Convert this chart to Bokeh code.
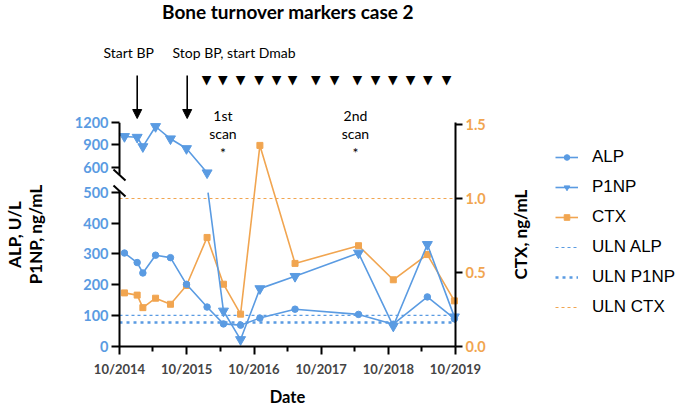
import math
import pandas as pd
from bokeh.plotting import figure
from bokeh.models import (Range1d, LinearAxis, FixedTicker, Label, Arrow, NormalHead,
                          Legend, LegendItem, NumeralTickFormatter)
from bokeh.embed import file_html
from bokeh.resources import INLINE

# ---------------- data ----------------
DATES = ["2014-10-28", "2015-01-05", "2015-02-05", "2015-04-15", "2015-07-05",
         "2015-09-30", "2016-01-20", "2016-04-18", "2016-07-20", "2016-11-02",
         "2017-05-12", "2018-04-22", "2018-10-28", "2019-05-01", "2019-09-25"]
ALP = [303, 272, 238, 296, 288, 201, 127, 72, 68, 91, 120, 103, 71, 160, 89]
P1NP = [1015, 1005, 878, 1150, 984, 852, 524, 114, 21, 187, 227, 303, 65, 331, 95]
CTX = [0.36, 0.345, 0.26, 0.324, 0.283, 0.41, 0.736, 0.419, 0.216, 1.36, 0.56,
       0.68, 0.449, 0.62, 0.306]
ULN_ALP = 100
ULN_P1NP = 77
ULN_CTX = 1.0

LEFT_TICKS = [0, 100, 200, 300, 400, 500, 600, 900, 1200]
RIGHT_TICKS = [0.0, 0.5, 1.0, 1.5]
X_TICK_DATES = ["2014-10-01", "2015-10-01", "2016-10-01", "2017-10-01",
                "2018-10-01", "2019-10-01"]
X_TICK_LABELS = ["10/2014", "10/2015", "10/2016", "10/2017", "10/2018", "10/2019"]
X_MINOR_DATES = ["2015-04-01", "2016-04-01", "2017-04-01", "2018-04-01", "2019-04-01"]
DMAB_DATES = ["2016-01-17", "2016-04-15", "2016-07-20", "2016-10-28", "2017-02-01",
              "2017-04-28", "2017-09-02", "2017-12-13", "2018-04-15", "2018-07-23",
              "2018-10-25", "2019-01-30", "2019-05-04", "2019-08-13"]
SCAN_DATES = ["2016-04-15", "2018-04-05"]
SCAN_LABELS = ["1st", "2nd"]

TITLE = "Bone turnover markers case 2"

# ---------------- style / layout ----------------
BLUE = "#5A9BE2"
ORANGE = "#F1A550"
W, H = 679, 407
AX_L, AX_R, AX_B, AX_T = 119, 455, 345.5, 122.3   # axis box in canvas px
PX_LO = 0.3068        # px per unit, lower segment of the left axis
PX_CTX = 147.5        # px per unit, right axis
BREAK = 500           # lower segment top
GAP_TOP = (AX_B - 174.1) / PX_LO      # where the upper segment starts (axis units)
R = ((AX_B - AX_T) / PX_LO - GAP_TOP) / 700.0   # compression of upper segment


def ms(d):
    return float(pd.Timestamp(d).value // 10**6)


def tf(v):
    return v if v <= BREAK else GAP_TOP + (v - BREAK) * R


def broken(xs, vs):
    bx, by = [xs[0]], [tf(vs[0])]
    for i in range(1, len(vs)):
        a, b = vs[i - 1], vs[i]
        if (a > BREAK) != (b > BREAK):
            f = (a - BREAK) / (a - b)
            xc = xs[i - 1] + f * (xs[i] - xs[i - 1])
            if a > BREAK:
                bx += [xc, math.nan, xc]
                by += [GAP_TOP, math.nan, BREAK]
            else:
                bx += [xc, math.nan, xc]
                by += [BREAK, math.nan, GAP_TOP]
        bx.append(xs[i])
        by.append(tf(b))
    return bx, by


X = [ms(d) for d in DATES]
X0, X1 = ms(X_TICK_DATES[0]), ms(X_TICK_DATES[-1])
MPP = (X1 - X0) / (AX_R - AX_L)

p = figure(width=W, height=H, x_axis_type="datetime",
           x_range=Range1d(X0 - AX_L * MPP, X1 + (W - AX_R) * MPP),
           y_range=Range1d(-(H - AX_B) / PX_LO, AX_B / PX_LO),
           output_backend="svg", toolbar_location=None,
           min_border_left=0, min_border_right=0,
           min_border_top=0, min_border_bottom=0)
p.outline_line_color = None
p.xgrid.visible = False
p.ygrid.visible = False
p.extra_y_ranges = {"ctx": Range1d(-(H - AX_B) / PX_CTX, AX_B / PX_CTX)}


def SX(ix):
    return ix


def SY(iy):
    return H - iy


# ---- axes ----
xa = p.xaxis[0]
xa.fixed_location = 0
xa.bounds = (X0, X1)
xa.ticker = FixedTicker(ticks=[ms(d) for d in X_TICK_DATES],
                        minor_ticks=[ms(d) for d in X_MINOR_DATES])
xa.major_label_overrides = {ms(d): l for d, l in zip(X_TICK_DATES, X_TICK_LABELS)}
xa.axis_line_width = 2
xa.major_tick_line_width = 2
xa.minor_tick_line_width = 2
xa.major_tick_out = 8
xa.major_tick_in = 0
xa.minor_tick_out = 5
xa.minor_tick_in = 0
xa.major_label_text_font = "Lato"
xa.major_label_text_font_style = "bold"
xa.major_label_text_font_size = "13px"
xa.major_label_standoff = 7

ya = p.yaxis[0]
ya.fixed_location = X0
lt = [round(tf(v), 2) for v in LEFT_TICKS]
ya.ticker = FixedTicker(ticks=lt, minor_ticks=[])
ya.major_label_overrides = {t: str(v) for t, v in zip(lt, LEFT_TICKS)}
ya.axis_line_color = None
ya.major_tick_line_width = 2
ya.major_tick_out = 8
ya.major_tick_in = 0
ya.major_label_text_font = "Lato"
ya.major_label_text_font_style = "bold"
ya.major_label_text_font_size = "14.5px"
ya.major_label_text_color = BLUE
ya.major_label_standoff = 3

ra = LinearAxis(y_range_name="ctx", ticker=FixedTicker(ticks=RIGHT_TICKS, minor_ticks=[]),
                formatter=NumeralTickFormatter(format="0.0"))
ra.fixed_location = X1
ra.bounds = (0, (AX_B - AX_T) / PX_CTX)
ra.axis_line_width = 2
ra.major_tick_line_width = 2
ra.major_tick_out = 7
ra.major_tick_in = 0
ra.major_label_text_font = "Lato"
ra.major_label_text_font_style = "bold"
ra.major_label_text_font_size = "14.5px"
ra.major_label_text_color = ORANGE
ra.major_label_standoff = 3
p.add_layout(ra, "right")

# ---- custom broken left axis line ----
for (x0, y0, x1, y1) in [(AX_L, AX_T, AX_L, 174), (AX_L, 190, AX_L, AX_B + 1),
                         (113, 169, 125, 180), (113, 185, 125, 196)]:
    p.add_layout(Arrow(end=None, x_start=SX(x0), y_start=SY(y0), x_end=SX(x1),
                       y_end=SY(y1), start_units="screen", end_units="screen",
                       line_color="black", line_width=2))

# ---- ULN lines ----
uln_alp = p.line([X0, X1], [ULN_ALP, ULN_ALP], line_color=BLUE, line_width=1.2,
                 line_dash="3 3")
uln_p1np = p.line([X0, X1], [ULN_P1NP, ULN_P1NP], line_color=BLUE, line_width=2.5,
                  line_dash="3 4")
uln_ctx = p.line([X0, X1], [ULN_CTX, ULN_CTX], line_color=ORANGE, line_width=1.2,
                 line_dash="3 3", y_range_name="ctx")

# ---- series ----
ctx_l = p.line(X, CTX, line_color=ORANGE, line_width=1.6, y_range_name="ctx")
ctx_m = p.scatter(X, CTX, marker="square", size=6, color=ORANGE, y_range_name="ctx")

bx, by = broken(X, ALP)
alp_l = p.line(bx, by, line_color=BLUE, line_width=1.6)
alp_m = p.scatter(X, [tf(v) for v in ALP], marker="circle", size=6.5, color=BLUE)

bx, by = broken(X, P1NP)
p1_l = p.line(bx, by, line_color=BLUE, line_width=1.6)
p1_m = p.scatter(X, [tf(v) for v in P1NP], marker="inverted_triangle", size=10, color=BLUE)

# ---- legend ----
legend = Legend(items=[
    LegendItem(label="ALP", renderers=[alp_l, alp_m]),
    LegendItem(label="P1NP", renderers=[p1_l, p1_m]),
    LegendItem(label="CTX", renderers=[ctx_l, ctx_m]),
    LegendItem(label="ULN ALP", renderers=[uln_alp]),
    LegendItem(label="ULN P1NP", renderers=[uln_p1np]),
    LegendItem(label="ULN CTX", renderers=[uln_ctx]),
], location=(SX(555), SY(317)), glyph_width=23, glyph_height=14, label_standoff=14,
    label_height=16, spacing=10, padding=0, margin=0, border_line_color=None,
    background_fill_alpha=0, label_text_font="Liberation Sans",
    label_text_font_size="17px", label_text_color="black")
p.add_layout(legend, "center")

# ---- texts ----
def lab(x, y, text, size, bold=False, align="center", angle=0, color="black",
        font="Lato", xu="screen"):
    p.add_layout(Label(x=x, y=y, x_units=xu, y_units="screen", text=text,
                       text_font=font, text_font_size=size,
                       text_font_style="bold" if bold else "normal",
                       text_align=align, text_baseline="middle", angle=angle,
                       text_color=color))


lab(SX(287.5), SY(11), TITLE, "19px", bold=True)
lab(SX(14), SY(234), "ALP, U/L", "17px", bold=True, angle=math.pi / 2)
lab(SX(35), SY(234), "P1NP, ng/mL", "17px", bold=True, angle=math.pi / 2)
lab(SX(520), SY(234), "CTX, ng/mL", "17px", bold=True, angle=math.pi / 2)
lab(SX(287), SY(396), "Date", "16.5px", bold=True)
lab(SX(103), SY(52), "Start  BP", "14px", align="left")
lab(SX(172), SY(52), "Stop BP, start Dmab", "14px", align="left")

for d in DMAB_DATES:
    lab(ms(d), SY(79), "\u25BC", "12.5px", font="DejaVu Sans", xu="data")
for d, t in zip(SCAN_DATES, SCAN_LABELS):
    lab(ms(d), SY(115), t, "14px", xu="data")
    lab(ms(d), SY(133), "scan", "14px", xu="data")
    lab(ms(d), SY(152), "*", "14px", xu="data")

for ix in (136.7, 186.7):
    p.add_layout(Arrow(end=NormalHead(size=9, fill_color="black", line_color="black"),
                       x_start=SX(ix), y_start=SY(75), x_end=SX(ix), y_end=SY(118),
                       start_units="screen", end_units="screen",
                       line_color="black", line_width=1.6))

open("out.html", "w").write(file_html(p, INLINE))
